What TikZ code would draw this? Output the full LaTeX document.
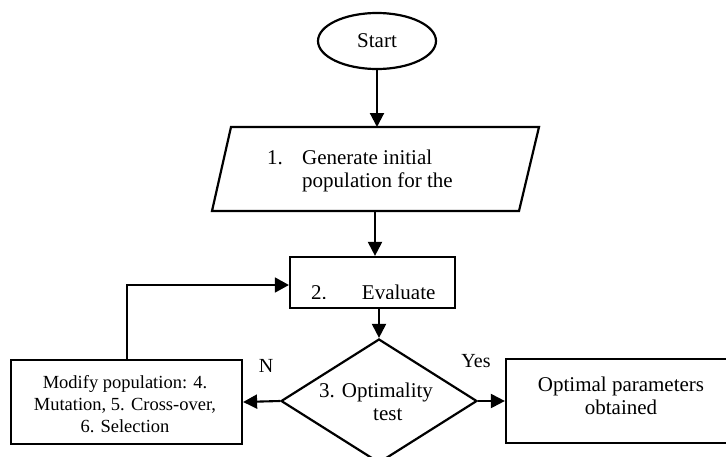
\documentclass[tikz,border=0pt]{standalone}
\usepackage{fontspec}
\setmainfont{Liberation Serif}
\usetikzlibrary{shapes.geometric,arrows.meta}
\begin{document}
\begin{tikzpicture}[x=1pt,y=-1pt,
  boxline/.style={draw=black,line width=2.2pt},
  arr/.style={line width=2.1pt,-{Triangle[length=14pt,width=14pt]}},
  fbarr/.style={line width=1.6pt,-{Triangle[length=14pt,width=15pt]}},
  bigtxt/.style={font=\fontsize{21}{23}\selectfont,inner sep=0pt},
  midtxt/.style={font=\fontsize{20}{23}\selectfont,inner sep=0pt},
  smalltxt/.style={font=\fontsize{18.5}{22}\selectfont,inner sep=0pt}]
\useasboundingbox (0,0) rectangle (726,456);
\fill[white] (0,0) rectangle (726,456);
% shapes
\node[boxline,ellipse,minimum width=118,minimum height=56,inner sep=0pt,bigtxt] (start) at (377,41) {Start};
\coordinate (gtl) at (231,127);
\coordinate (gtr) at (539,127);
\coordinate (gbr) at (519,211);
\coordinate (gbl) at (212,211);
\draw[boxline,line join=miter] (gtl) -- (gtr) -- (gbr) -- (gbl) -- cycle;
\coordinate (gentop) at (377,127);
\coordinate (genbot) at (375,211);
\node[boxline,rectangle,minimum width=165,minimum height=51,inner sep=0pt] (eval) at (372.5,282.5) {};
\node[boxline,diamond,minimum width=196,minimum height=124,inner sep=0pt] (test) at (379,401) {};
\node[boxline,rectangle,minimum width=231,minimum height=84,inner sep=0pt] (mod) at (126.5,402) {};
\node[boxline,rectangle,minimum width=230,minimum height=84,inner sep=0pt] (opt) at (621,401) {};
% texts
\node[bigtxt,align=left,anchor=west] (gentext) at (267,171) {1.\hspace{19.25pt}Generate initial\\\hspace*{35pt}population for the};
\begin{scope}
  \clip (eval.north west) rectangle (eval.east |- 0,298.3);
  \node[bigtxt,anchor=base west] (evaltext) at (311,299.5) {2.\hspace{35pt}Evaluate};
\end{scope}
\node[bigtxt,align=left,anchor=west] (testtext) at (319,402) {3. Optimality\\\hspace*{54pt}test};
\node[smalltxt,align=center] (modtext) at (125,404) {Modify population: 4.\\Mutation, 5. Cross-over,\\6. Selection};
\node[bigtxt,align=center] (opttext) at (621,395.4) {Optimal parameters\\obtained};
\node[midtxt,anchor=base] (nlab) at (266,372) {N};
\node[midtxt,anchor=base] (ylab) at (476,367) {Yes};
% connectors
\coordinate (fb) at (127,285);
\draw[arr] (start.south) -- (start.south |- gentop);
\draw[arr] (genbot) -- (genbot |- eval.north);
\draw[arr] (eval.south -| test.north) -- (test.north);
\draw[arr] (test.west) -- (mod.east);
\draw[arr] (test.east) -- (opt.west);
\draw[fbarr] (mod.north -| fb) |- (eval.west |- fb);
\end{tikzpicture}
\end{document}
